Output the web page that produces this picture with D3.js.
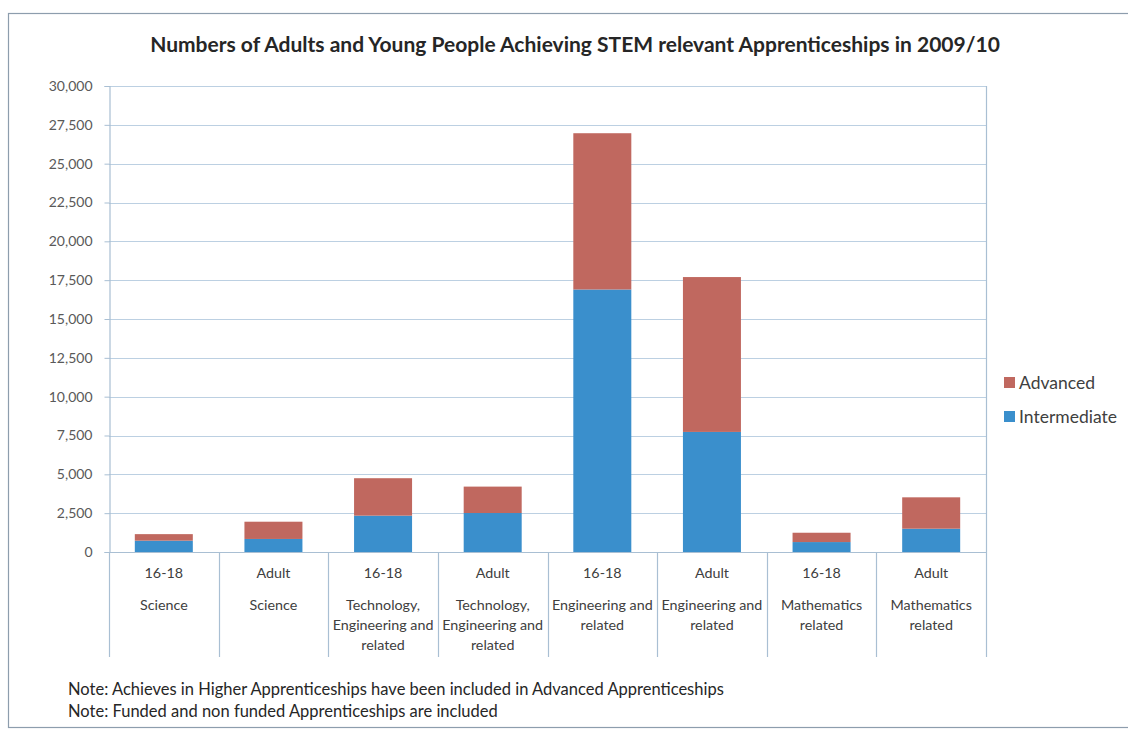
<!DOCTYPE html>
<html>
<head>
<meta charset="utf-8">
<script src="https://cdn.jsdelivr.net/npm/d3@7"></script>
<style>
  html, body { margin: 0; padding: 0; background: #ffffff; }
  svg { display: block; font-family: Lato, "Open Sans", sans-serif; }
</style>
</head>
<body>
<svg id="chart" width="1128" height="730"></svg>
<script>
// Apprenticeship achievements 2009/10, by age group and subject area
const ageGroups = ["16-18", "Adult", "16-18", "Adult", "16-18", "Adult", "16-18", "Adult"];
const subjects = [
  "Science", "Science",
  "Technology, Engineering and related", "Technology, Engineering and related",
  "Engineering and related", "Engineering and related",
  "Mathematics related", "Mathematics related"
];
const intermediate = [730, 840, 2340, 2510, 16900, 7730, 640, 1500];
const advanced = [420, 1110, 2410, 1700, 10060, 9970, 600, 2020];
const seriesNames = ["Intermediate", "Advanced"];
const yTicks = [0, 2500, 5000, 7500, 10000, 12500, 15000, 17500, 20000, 22500, 25000, 27500, 30000];
const titleText = "Numbers of Adults and Young People Achieving STEM relevant Apprenticeships in 2009/10";
const notes = [
  "Note: Achieves in Higher Apprenticeships have been included in Advanced Apprenticeships",
  "Note: Funded and non funded Apprenticeships are included"
];

const colors = { Intermediate: "#3a8fcc", Advanced: "#c0685f" };
const gridColor = "#bcd0e2";
const axisColor = "#a9bfd3";

const svg = d3.select("#chart");

// outer chart frame
svg.append("rect")
  .attr("x", 8.5).attr("y", 13.5)
  .attr("width", 1130).attr("height", 714)
  .attr("fill", "none").attr("stroke", "#8d9dad").attr("stroke-width", 1.2);

const plot = { left: 109, right: 986, top: 86, bottom: 552 };

const idx = d3.range(ageGroups.length);
const x = d3.scaleBand().domain(idx).range([plot.left, plot.right]).padding(0);
const y = d3.scaleLinear().domain([0, 30000]).range([plot.bottom, plot.top]);
const barW = x.bandwidth() / 1.89;

// gridlines
svg.append("g").selectAll("line").data(yTicks).join("line")
  .attr("x1", plot.left).attr("x2", plot.right)
  .attr("y1", d => Math.round(y(d)) + 0.5).attr("y2", d => Math.round(y(d)) + 0.5)
  .attr("stroke", gridColor).attr("stroke-width", 1.2);

// y axis
const yAxis = svg.append("g")
  .attr("transform", `translate(${plot.left + 0.5},0)`)
  .call(d3.axisLeft(y).tickValues(yTicks).tickFormat(d3.format(",")).tickSize(5).tickPadding(12));
yAxis.select(".domain").attr("stroke", axisColor).attr("stroke-width", 1.2);
yAxis.selectAll(".tick line").attr("stroke", axisColor);
yAxis.selectAll(".tick text")
  .attr("fill", "#595959").attr("font-size", 14).attr("font-family", "Lato, sans-serif");

// right edge of plot area
svg.append("line")
  .attr("x1", plot.right + 0.5).attr("x2", plot.right + 0.5)
  .attr("y1", plot.top).attr("y2", plot.bottom)
  .attr("stroke", axisColor).attr("stroke-width", 1.2);

// stacked bars
const table = idx.map(i => ({ i, Intermediate: intermediate[i], Advanced: advanced[i] }));
const stacked = d3.stack().keys(seriesNames)(table);
svg.append("g").selectAll("g").data(stacked).join("g")
  .attr("fill", s => colors[s.key])
  .selectAll("rect").data(s => s).join("rect")
  .attr("x", d => x(d.data.i) + (x.bandwidth() - barW) / 2)
  .attr("width", barW)
  .attr("y", d => y(d[1]))
  .attr("height", d => y(d[0]) - y(d[1]));

// category axis: baseline and dividers reaching down through the label rows
const catBottom = 657;
svg.append("line")
  .attr("x1", plot.left).attr("x2", plot.right)
  .attr("y1", plot.bottom + 0.5).attr("y2", plot.bottom + 0.5)
  .attr("stroke", axisColor).attr("stroke-width", 1.2);
svg.append("g").selectAll("line").data(d3.range(ageGroups.length + 1)).join("line")
  .attr("x1", d => Math.round(plot.left + d * x.bandwidth()) + 0.5)
  .attr("x2", d => Math.round(plot.left + d * x.bandwidth()) + 0.5)
  .attr("y1", plot.bottom).attr("y2", catBottom)
  .attr("stroke", axisColor).attr("stroke-width", 1.2);

const labelFont = 14.3;
const labels = svg.append("g")
  .attr("font-size", labelFont).attr("fill", "#404040").attr("text-anchor", "middle");

labels.selectAll("text.age").data(idx).join("text")
  .attr("class", "age")
  .attr("x", i => x(i) + x.bandwidth() / 2)
  .attr("y", 578)
  .text(i => ageGroups[i]);

// wrap subject names to the width of each category
function wrapLines(text, maxW, measure) {
  const words = text.split(" ");
  const lines = [];
  let line = "";
  words.forEach(w => {
    const trial = line ? line + " " + w : w;
    if (line && measure(trial) > maxW) { lines.push(line); line = w; }
    else line = trial;
  });
  if (line) lines.push(line);
  return lines;
}
const probe = labels.append("text").attr("visibility", "hidden");
const measure = s => probe.text(s).node().getComputedTextLength();

idx.forEach(i => {
  const lines = wrapLines(subjects[i], x.bandwidth() - 2, measure);
  const t = labels.append("text")
    .attr("x", x(i) + x.bandwidth() / 2)
    .attr("y", 610);
  lines.forEach((ln, k) => {
    t.append("tspan").attr("x", x(i) + x.bandwidth() / 2).attr("dy", k === 0 ? 0 : 20).text(ln);
  });
});
probe.remove();

// title
svg.append("text")
  .attr("x", 575).attr("y", 52)
  .attr("text-anchor", "middle")
  .attr("font-size", 21).attr("font-weight", "bold").attr("fill", "#262626")
  .text(titleText);

// legend
const legendItems = ["Advanced", "Intermediate"];
const legend = svg.append("g").selectAll("g").data(legendItems).join("g")
  .attr("transform", (d, k) => `translate(1004,${377 + k * 34})`);
legend.append("rect").attr("width", 11).attr("height", 11).attr("fill", d => colors[d]);
legend.append("text")
  .attr("x", 15).attr("y", 12)
  .attr("font-size", 17.5).attr("fill", "#404040")
  .text(d => d);

// notes beneath the chart
svg.append("g").selectAll("text").data(notes).join("text")
  .attr("x", 68).attr("y", (d, k) => 695 + k * 22)
  .attr("font-size", 16.5).attr("fill", "#262626")
  .text(d => d);
</script>
</body>
</html>
